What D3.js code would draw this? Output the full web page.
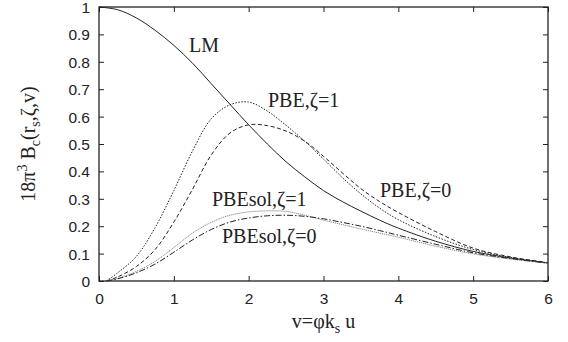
<!DOCTYPE html>
<html>
<head>
<meta charset="utf-8">
<script src="https://cdn.jsdelivr.net/npm/d3@7"></script>
<style>
  body { margin: 0; background: #fff; }
  svg { display: block; }
  .tick text { font-family: "Liberation Sans", Arial, sans-serif; font-size: 15.5px; fill: #222; }
  .tick line { stroke: #222; stroke-width: 1; }
  .lab { font-family: "Liberation Serif", "Times New Roman", serif; font-size: 20px; fill: #222; }
</style>
</head>
<body>
<div class="chart"></div>
<script>
// LM curve (starts at v = 0)
const vLM = [0, 0.25, 0.5, 0.75, 1, 1.25, 1.5, 1.75, 2, 2.25, 2.5, 2.75, 3, 3.25, 3.5, 3.75, 4, 4.5, 5, 5.5, 6];
const bLM = [1, 0.99, 0.96, 0.915, 0.86, 0.795, 0.72, 0.645, 0.57, 0.5, 0.435, 0.38, 0.33, 0.29, 0.255, 0.222, 0.193, 0.145, 0.108, 0.084, 0.066];

// the other four curves share this grid
const vGrid = [0.1, 0.25, 0.5, 0.75, 1, 1.25, 1.5, 1.75, 2, 2.25, 2.5, 2.75, 3, 3.25, 3.5, 3.75, 4, 4.5, 5, 5.5, 6];
const bPBE1 = [0, 0.03, 0.09, 0.195, 0.33, 0.475, 0.592, 0.643, 0.653, 0.62, 0.568, 0.51, 0.445, 0.378, 0.318, 0.266, 0.224, 0.162, 0.115, 0.086, 0.066];
const bPBE0 = [0, 0.015, 0.053, 0.115, 0.215, 0.335, 0.46, 0.54, 0.57, 0.567, 0.547, 0.51, 0.455, 0.395, 0.337, 0.29, 0.25, 0.18, 0.12, 0.088, 0.067];
const bSol1 = [0, 0.01, 0.035, 0.072, 0.122, 0.175, 0.214, 0.24, 0.252, 0.256, 0.254, 0.24, 0.222, 0.206, 0.19, 0.175, 0.16, 0.127, 0.099, 0.08, 0.065];
const bSol0 = [0, 0.008, 0.03, 0.062, 0.105, 0.15, 0.188, 0.215, 0.23, 0.238, 0.24, 0.236, 0.227, 0.214, 0.2, 0.184, 0.167, 0.134, 0.103, 0.082, 0.065];

const xTicks = [0, 1, 2, 3, 4, 5, 6];
const yTicks = [0, 0.1, 0.2, 0.3, 0.4, 0.5, 0.6, 0.7, 0.8, 0.9, 1];
const yTickLabels = ["0", "0.1", "0.2", "0.3", "0.4", "0.5", "0.6", "0.7", "0.8", "0.9", "1"];

const W = 568, H = 342;
const svg = d3.select(".chart").append("svg")
    .attr("width", W)
    .attr("height", H);

let x = d3.scaleLinear().domain([0, 6]).range([99, 548]);
let y = d3.scaleLinear().domain([0, 1]).range([281, 7]);

// ticks, all pointing inward
svg.append("g")
    .attr("transform", "translate(0," + y(0) + ")")
    .call(d3.axisBottom(x).tickValues(xTicks).tickSize(-5).tickPadding(12).tickFormat(d3.format("d")))
    .call(g => g.select(".domain").remove());
svg.append("g")
    .attr("transform", "translate(0," + y(1) + ")")
    .call(d3.axisTop(x).tickValues(xTicks).tickSize(-5).tickFormat(""))
    .call(g => g.select(".domain").remove());
svg.append("g")
    .attr("transform", "translate(" + x(0) + ",0)")
    .call(d3.axisLeft(y).tickValues(yTicks).tickSize(-5).tickPadding(9)
        .tickFormat((d, i) => yTickLabels[i]))
    .call(g => g.select(".domain").remove())
    .call(g => g.selectAll(".tick text").attr("dy", "0.36em"));
svg.append("g")
    .attr("transform", "translate(" + x(6) + ",0)")
    .call(d3.axisRight(y).tickValues(yTicks).tickSize(-5).tickFormat(""))
    .call(g => g.select(".domain").remove());

// frame
svg.append("rect")
    .attr("x", x(0))
    .attr("y", y(1))
    .attr("width", x(6) - x(0))
    .attr("height", y(0) - y(1))
    .attr("fill", "none")
    .attr("stroke", "#222")
    .attr("stroke-width", 1.3);

let line = d3.line()
    .x(d => x(d[0]))
    .y(d => y(d[1]))
    .curve(d3.curveCatmullRom.alpha(0.5));

let curves = [
    {v: vLM, b: bLM, color: "#222", dash: null},
    {v: vGrid, b: bPBE1, color: "#222", dash: "1.5,1.5"},
    {v: vGrid, b: bPBE0, color: "#222", dash: "4,2.5"},
    {v: vGrid, b: bSol1, color: "#888", dash: "1.2,0.8"},
    {v: vGrid, b: bSol0, color: "#222", dash: "6,2,1.5,2"}
];

curves.forEach(function (c) {
    svg.append("path")
        .datum(c.v.map((v, i) => [v, c.b[i]]))
        .attr("d", line)
        .attr("fill", "none")
        .attr("stroke", c.color)
        .attr("stroke-width", 1)
        .attr("stroke-dasharray", c.dash);
});

// curve labels
let labels = [
    {t: "LM", x: 189, y: 52},
    {t: "PBE,ζ=1", x: 268, y: 107},
    {t: "PBE,ζ=0", x: 380, y: 197},
    {t: "PBEsol,ζ=1", x: 212, y: 206},
    {t: "PBEsol,ζ=0", x: 222, y: 243}
];
svg.selectAll("text.curvelab")
    .data(labels)
    .enter()
    .append("text")
    .attr("class", "lab curvelab")
    .attr("x", d => d.x)
    .attr("y", d => d.y)
    .text(d => d.t);

// x axis title: v=φk_s u
let xt = svg.append("text")
    .attr("class", "lab")
    .attr("x", (x(0) + x(6)) / 2)
    .attr("y", 328)
    .attr("text-anchor", "middle");
xt.append("tspan").text("v=φk");
xt.append("tspan").attr("dy", 5).attr("font-size", 14).text("s");
xt.append("tspan").attr("dy", -5).text(" u");

// y axis title: 18π³ B_c(r_s,ζ,v)
let yt = svg.append("text")
    .attr("class", "lab")
    .attr("transform", "translate(35," + (y(0) + y(1)) / 2 + ") rotate(-90)")
    .attr("text-anchor", "middle");
yt.append("tspan").text("18π");
yt.append("tspan").attr("dy", -8).attr("font-size", 14).text("3");
yt.append("tspan").attr("dy", 8).text(" B");
yt.append("tspan").attr("dy", 5).attr("font-size", 14).text("c");
yt.append("tspan").attr("dy", -5).text("(r");
yt.append("tspan").attr("dy", 5).attr("font-size", 14).text("s");
yt.append("tspan").attr("dy", -5).text(",ζ,v)");
</script>
</body>
</html>
